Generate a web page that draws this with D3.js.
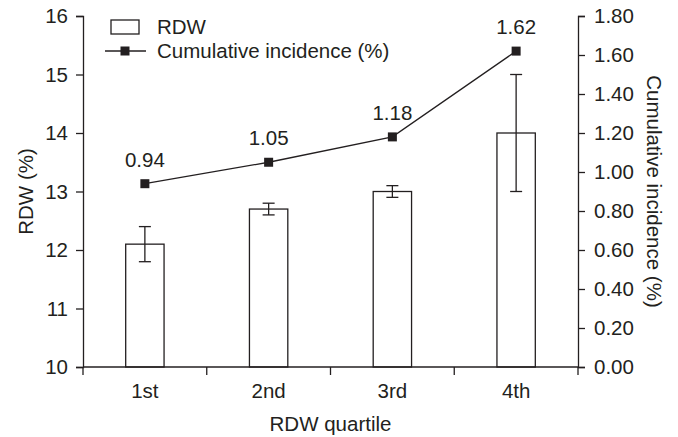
<!DOCTYPE html>
<html>
<head>
<meta charset="utf-8">
<script src="https://cdn.jsdelivr.net/npm/d3@7"></script>
<style>
  html, body { margin: 0; padding: 0; background: #fff; }
  svg { display: block; font-family: "Liberation Sans", Arial, sans-serif; }
</style>
</head>
<body>
<svg id="chart" width="678" height="437"></svg>
<script>
const categories = ["1st", "2nd", "3rd", "4th"];
const rdwValues = [12.1, 12.7, 13.0, 14.0];
const rdwErrLow = [11.8, 12.6, 12.9, 13.0];
const rdwErrHigh = [12.4, 12.8, 13.1, 15.0];
const incidence = [0.94, 1.05, 1.18, 1.62];
const leftTicks = [10, 11, 12, 13, 14, 15, 16];
const rightTicks = [0, 0.2, 0.4, 0.6, 0.8, 1.0, 1.2, 1.4, 1.6, 1.8];

const ink = "#231f20";
const FS = 20.5;
const svg = d3.select("#chart");
const L = 83, R = 578, T = 16, B = 367;

const x = d3.scaleBand().domain(categories).range([L, R]).paddingInner(0).paddingOuter(0);
const yL = d3.scaleLinear().domain([10, 16]).range([B, T]);
const yR = d3.scaleLinear().domain([0, 1.8]).range([B, T]);

const barW = x.bandwidth() * 0.31;
const cx = c => x(c) + x.bandwidth() / 2;

// Bars
svg.append("g").selectAll("rect").data(categories).join("rect")
  .attr("x", c => cx(c) - barW / 2)
  .attr("y", (c, i) => yL(rdwValues[i]))
  .attr("width", barW)
  .attr("height", (c, i) => yL(10) - yL(rdwValues[i]))
  .attr("fill", "#fff").attr("stroke", ink).attr("stroke-width", 1.3);

// Error bars
const eg = svg.append("g").attr("stroke", ink).attr("stroke-width", 1.3);
categories.forEach((c, i) => {
  eg.append("line").attr("x1", cx(c)).attr("x2", cx(c)).attr("y1", yL(rdwErrLow[i])).attr("y2", yL(rdwErrHigh[i]));
  eg.append("line").attr("x1", cx(c) - 6).attr("x2", cx(c) + 6).attr("y1", yL(rdwErrLow[i])).attr("y2", yL(rdwErrLow[i]));
  eg.append("line").attr("x1", cx(c) - 6).attr("x2", cx(c) + 6).attr("y1", yL(rdwErrHigh[i])).attr("y2", yL(rdwErrHigh[i]));
});

// Axes
const axL = d3.axisLeft(yL).tickValues(leftTicks).tickSize(7).tickPadding(8).tickFormat(d3.format("d"));
const axR = d3.axisRight(yR).tickValues(rightTicks).tickSize(7).tickPadding(9).tickFormat(d3.format(".2f"));
const axB = d3.axisBottom(x).tickSize(0).tickPadding(16);

function style(g) {
  g.select(".domain").attr("stroke", ink).attr("stroke-width", 1.3);
  g.selectAll(".tick line").attr("stroke", ink).attr("stroke-width", 1.3);
  g.selectAll(".tick text").attr("fill", ink).attr("font-size", FS).attr("font-family", "Liberation Sans, Arial, sans-serif");
}
svg.append("g").attr("transform", `translate(${L},0)`).call(axL).call(style);
svg.append("g").attr("transform", `translate(${R},0)`).call(axR).call(style);
const gb = svg.append("g").attr("transform", `translate(0,${B})`).call(axB).call(style);
gb.select(".domain").attr("d", `M${L},0H${R}`);
// category boundary ticks
gb.selectAll("line.bt").data(d3.range(categories.length + 1)).join("line")
  .attr("class", "bt")
  .attr("x1", i => L + i * x.bandwidth()).attr("x2", i => L + i * x.bandwidth())
  .attr("y1", 0).attr("y2", 8).attr("stroke", ink).attr("stroke-width", 1.3);

// Line series
const line = d3.line().x((d, i) => cx(categories[i])).y(d => yR(d));
svg.append("path").datum(incidence).attr("d", line).attr("fill", "none").attr("stroke", ink).attr("stroke-width", 1.3);
svg.append("g").selectAll("rect").data(incidence).join("rect")
  .attr("x", (d, i) => cx(categories[i]) - 4.5).attr("y", d => yR(d) - 4.5)
  .attr("width", 9).attr("height", 9).attr("fill", ink);
svg.append("g").selectAll("text").data(incidence).join("text")
  .attr("x", (d, i) => cx(categories[i])).attr("y", d => yR(d) - 17)
  .attr("text-anchor", "middle").attr("font-size", FS).attr("fill", ink)
  .text(d => d.toFixed(2));

// Axis titles
svg.append("text").attr("transform", `translate(${(L + R) / 2},431)`).attr("text-anchor", "middle")
  .attr("font-size", FS).attr("fill", ink).text("RDW quartile");
svg.append("text").attr("transform", `translate(33,${(T + B) / 2}) rotate(-90)`).attr("text-anchor", "middle")
  .attr("font-size", FS).attr("fill", ink).text("RDW (%)");
svg.append("text").attr("transform", `translate(647,${(T + B) / 2}) rotate(90)`).attr("text-anchor", "middle")
  .attr("font-size", FS).attr("fill", ink).text("Cumulative incidence (%)");

// Legend
const lg = svg.append("g");
lg.append("rect").attr("x", 111).attr("y", 20).attr("width", 28).attr("height", 14)
  .attr("fill", "#fff").attr("stroke", ink).attr("stroke-width", 1.3);
lg.append("text").attr("x", 157).attr("y", 34).attr("font-size", FS).attr("fill", ink).text("RDW");
lg.append("line").attr("x1", 105).attr("x2", 146).attr("y1", 51).attr("y2", 51).attr("stroke", ink).attr("stroke-width", 1.3);
lg.append("rect").attr("x", 125 - 4.5).attr("y", 51 - 4.5).attr("width", 9).attr("height", 9).attr("fill", ink);
lg.append("text").attr("x", 157).attr("y", 58).attr("font-size", FS).attr("fill", ink).text("Cumulative incidence (%)");
</script>
</body>
</html>
